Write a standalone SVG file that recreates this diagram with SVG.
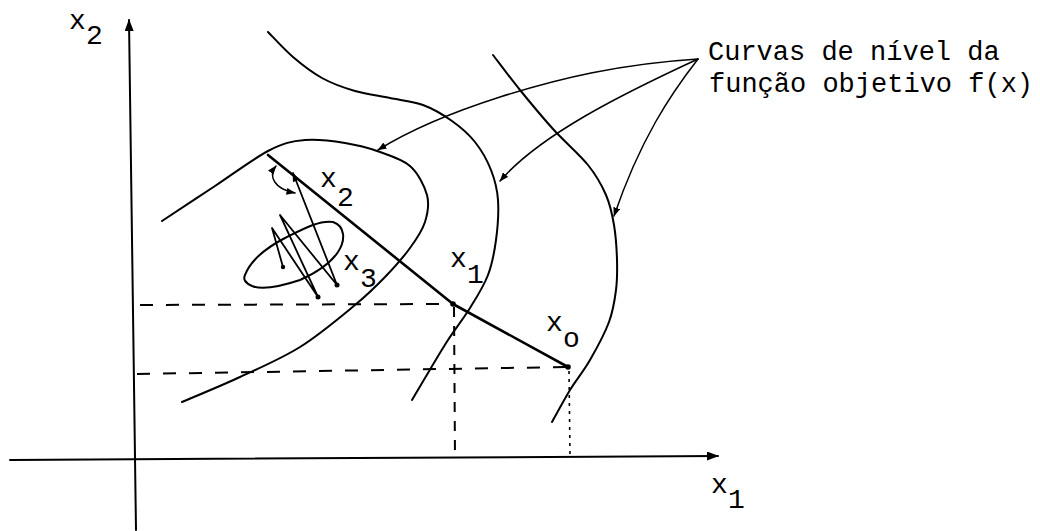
<svg xmlns="http://www.w3.org/2000/svg" width="1040" height="531" viewBox="0 0 1040 531">
<defs>
<style>
.ln{fill:none;stroke:#000;stroke-width:2;stroke-linecap:round;stroke-linejoin:round}
.thin{fill:none;stroke:#000;stroke-width:1.5;stroke-linecap:round}
.zz{fill:none;stroke:#000;stroke-width:1.8;stroke-linecap:round;stroke-linejoin:round}
.dash{fill:none;stroke:#000;stroke-width:2;stroke-dasharray:13 13}
.dashv{fill:none;stroke:#000;stroke-width:2;stroke-dasharray:10 9}
.dot{fill:none;stroke:#000;stroke-width:1.6;stroke-dasharray:3 5}
.lab{font-family:"Liberation Mono","Courier New",monospace;font-size:28px;fill:#000}
.txt{font-family:"Liberation Mono","Courier New",monospace;font-size:27px;fill:#000}
</style>
<marker id="axisArrow" viewBox="0 0 12 9" refX="11" refY="4.5" markerWidth="12" markerHeight="9" markerUnits="userSpaceOnUse" orient="auto">
<path d="M0,0 L12,4.5 L0,9 z" fill="#000"/>
</marker>
<marker id="tip" viewBox="0 0 9 7" refX="8.5" refY="3.5" markerWidth="9" markerHeight="7" markerUnits="userSpaceOnUse" orient="auto-start-reverse">
<path d="M0,0 L9,3.5 L0,7 z" fill="#000"/>
</marker>
</defs>
<rect width="1040" height="531" fill="#fff"/>

<g id="axes">
<path class="ln" d="M136,530 L129,20" marker-end="url(#axisArrow)"/>
<path class="ln" d="M10,460 L718,456" marker-end="url(#axisArrow)"/>
</g>

<g id="contour-inner">
<path class="ln" d="M162,221 C171,215 197,198 215,186 C233,174 253,159 268,151 C283,143 292,141 305,140 C318,139 333,141 345,143 C357,145 366,147 377,151 C388,155 402,159 410,166 C418,173 424.5,185.7 427,195 C429.5,204.3 427.8,213.2 425,222 C422.2,230.8 416.7,238.8 410,248 C403.3,257.2 394.2,267.5 385,277 C375.8,286.5 369.2,293.3 355,305 C340.8,316.7 319.2,335 300,347 C280.8,359 259.7,367.8 240,377 C220.3,386.2 191.7,397.8 182,402"/>
</g>
<g id="contour-middle">
<path class="ln" d="M268,32 C272.2,36.2 284,49.3 293,57 C302,64.7 311.7,72.3 322,78 C332.3,83.7 343.7,87.7 355,91 C366.3,94.3 378.7,95.7 390,98 C401.3,100.3 412.7,101.2 423,105 C433.3,108.8 443.3,114.8 452,121 C460.7,127.2 468.5,133.8 475,142 C481.5,150.2 487.2,160.3 491,170 C494.8,179.7 497.2,188.3 498,200 C498.8,211.7 497.7,227.5 496,240 C494.3,252.5 492.3,263.7 488,275 C483.7,286.3 476.7,297.2 470,308 C463.3,318.8 455,329.2 448,340 C441,350.8 434,363 428,373 C422,383 414.7,395.5 412,400"/>
</g>
<g id="contour-outer">
<path class="ln" d="M493,55 C497.5,60.8 510,77.7 520,90 C530,102.3 541.7,116.5 553,129 C564.3,141.5 579.2,154 588,165 C596.8,176 601.7,185 606,195 C610.3,205 612.2,214.2 614,225 C615.8,235.8 616.7,249.2 617,260 C617.3,270.8 617.3,279.7 616,290 C614.7,300.3 613.3,310.3 609,322 C604.7,333.7 596.5,348.7 590,360 C583.5,371.3 576.3,379.7 570,390 C563.7,400.3 555,416.7 552,422"/>
</g>
<g id="ellipse-min">
<path class="ln" d="M245,275 C250,262 262,250 285,238 C305,228 320,220 333,222 C345,226 346,240 338,252 C330,264 318,272 300,280 C282,286 262,290 252,286 C245,283 243,279 245,275 Z"/>
</g>

<g id="guides">
<path class="dash" d="M140,305 L451,304"/>
<path class="dash" d="M137,374 L566,367"/>
<path class="dashv" d="M454,307 L455,458"/>
<path class="dot" d="M569,371 L570,456"/>
</g>

<g id="search-path">
<path class="ln" style="stroke-width:2.6" d="M568,367 L453,304 L268,155"/>
<path class="zz" d="M283,267 L272,228 L318,297 L280,215 L337,285 L293,173" marker-end="url(#tip)"/>
<path class="thin" d="M276,166 C268,176 274,189 295,193" marker-start="url(#tip)" marker-end="url(#tip)"/>
<circle cx="568" cy="367" r="2.8"/>
<circle cx="453" cy="304" r="2.8"/>
<circle cx="337" cy="285" r="2.5"/>
<circle cx="318" cy="297" r="2.5"/>
<circle cx="283" cy="267" r="2.2"/>
</g>

<g id="connectors">
<path class="thin" d="M698,59 C620,64 560,78 500,97 C450,113 410,130 378,150" marker-end="url(#tip)"/>
<path class="thin" d="M698,59 C620,95 540,135 500,181" marker-end="url(#tip)"/>
<path class="thin" d="M698,59 C670,95 640,140 614,216" marker-end="url(#tip)"/>
</g>

<g id="label-caption">
<text class="txt" x="708" y="60">Curvas de nível da</text>
<text class="txt" x="709" y="92">função objetivo f(x)</text>
</g>
<g id="label-axis-x2"><text class="lab"><tspan x="69" y="29">x</tspan><tspan x="86" y="44">2</tspan></text></g>
<g id="label-axis-x1"><text class="lab"><tspan x="711" y="493">x</tspan><tspan x="728" y="508">1</tspan></text></g>
<g id="label-x2"><text class="lab"><tspan x="320" y="187">x</tspan><tspan x="337" y="206">2</tspan></text></g>
<g id="label-x3"><text class="lab"><tspan x="343" y="270">x</tspan><tspan x="360" y="287">3</tspan></text></g>
<g id="label-x1"><text class="lab"><tspan x="450" y="267">x</tspan><tspan x="467" y="283">1</tspan></text></g>
<g id="label-x0"><text class="lab"><tspan x="546" y="331">x</tspan><tspan x="563" y="347">o</tspan></text></g>
</svg>
